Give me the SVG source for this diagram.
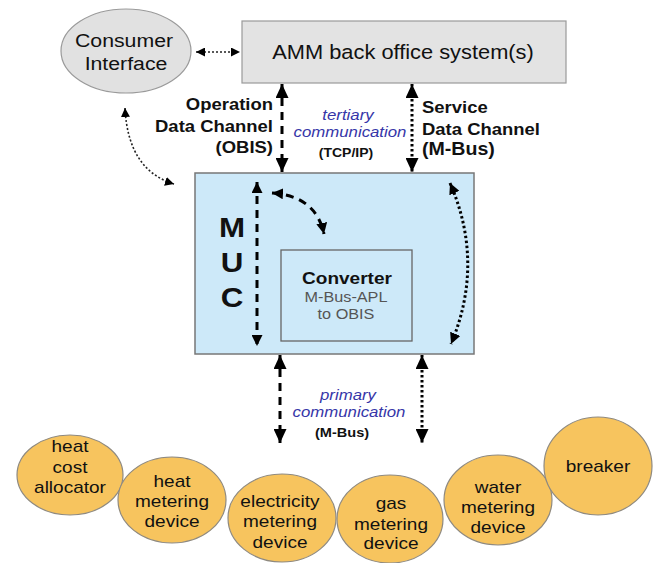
<svg xmlns="http://www.w3.org/2000/svg" width="657" height="563" viewBox="0 0 657 563">
<style>
text{font-family:"Liberation Sans",Arial,sans-serif;fill:#111}
.b{font-weight:bold}
.m{text-anchor:middle}
.e{text-anchor:end}
.blue{fill:#3636a8;font-style:italic;font-size:15px}
.node{font-size:17px}
.dev{fill:#f7c45e;stroke:#8f8a80;stroke-width:1.2}
.big{fill:none;stroke:#000;stroke-width:3}
.dash{stroke-dasharray:8 6}
.dot{stroke-dasharray:2.5 2.5}
.thin{fill:none;stroke:#222;stroke-width:1.6;stroke-dasharray:2 2}
</style>
<defs>
<marker id="ah" markerUnits="userSpaceOnUse" markerWidth="15" markerHeight="13" refX="14" refY="6.5" orient="auto-start-reverse" viewBox="0 0 15 13">
<path d="M0,0 L14,6.5 L0,13 z" fill="#000"/>
</marker>
<marker id="as" markerUnits="userSpaceOnUse" markerWidth="10" markerHeight="9" refX="9" refY="4.5" orient="auto-start-reverse" viewBox="0 0 10 9">
<path d="M0,0 L9,4.5 L0,9 z" fill="#000"/>
</marker>
<marker id="am" markerUnits="userSpaceOnUse" markerWidth="12" markerHeight="11" refX="11" refY="5.5" orient="auto-start-reverse" viewBox="0 0 12 11">
<path d="M0,0 L11,5.5 L0,11 z" fill="#000"/>
</marker>
</defs>

<g id="consumer">
<ellipse cx="126" cy="51" rx="65" ry="42" fill="#e1e1e1" stroke="#9a9a9a" stroke-width="1.2"/>
<text transform="translate(124,47) scale(1.12,1)" class="m" font-size="19">Consumer</text>
<text transform="translate(126,70) scale(1.12,1)" class="m" font-size="19">Interface</text>
</g>

<g id="amm">
<rect x="242" y="21" width="324" height="62" fill="#e3e3e3" stroke="#9a9a9a" stroke-width="1.2"/>
<text transform="translate(403,59) scale(1.12,1)" class="m" font-size="19.5">AMM back office system(s)</text>
</g>

<g id="muc">
<rect x="195" y="173" width="279" height="181" fill="#cde9f9" stroke="#777" stroke-width="1.5"/>
<text transform="translate(232,237) scale(1.12,1)" class="m b" font-size="28">M</text>
<text transform="translate(232,272) scale(1.12,1)" class="m b" font-size="28">U</text>
<text transform="translate(232,307) scale(1.12,1)" class="m b" font-size="28">C</text>
</g>

<g id="converter">
<rect x="281" y="250" width="131" height="91" fill="#cde9f9" stroke="#666" stroke-width="1.3"/>
<text transform="translate(347,284) scale(1.12,1)" class="m b" font-size="17">Converter</text>
<text transform="translate(346,302) scale(1.12,1)" class="m" font-size="14.5" style="fill:#555">M-Bus-APL</text>
<text transform="translate(346,319) scale(1.12,1)" class="m" font-size="14.5" style="fill:#555">to OBIS</text>
</g>

<g id="connectors">
<line x1="196" y1="52" x2="240" y2="52" class="thin" marker-start="url(#as)" marker-end="url(#as)"/>
<path d="M125,108 Q128,170 174,184" class="thin" marker-start="url(#as)" marker-end="url(#as)"/>
<line x1="282" y1="84" x2="282" y2="172" class="big dash" marker-start="url(#ah)" marker-end="url(#ah)"/>
<line x1="412" y1="84" x2="412" y2="172" class="big dot" marker-start="url(#ah)" marker-end="url(#ah)"/>
<line x1="257" y1="182" x2="257" y2="346" class="big dash" marker-start="url(#am)" marker-end="url(#am)"/>
<path d="M272,193 Q316,196 324,234" class="big dash" marker-start="url(#am)" marker-end="url(#am)"/>
<path d="M450,183 Q485,263 451,344" class="big dot" marker-start="url(#am)" marker-end="url(#am)"/>
<line x1="280" y1="355" x2="280" y2="443" class="big dash" marker-start="url(#ah)" marker-end="url(#ah)"/>
<line x1="422" y1="355" x2="422" y2="443" class="big dot" marker-start="url(#ah)" marker-end="url(#ah)"/>
</g>

<g id="labels">
<text transform="translate(273,110) scale(1.12,1)" class="e b" font-size="16.5">Operation</text>
<text transform="translate(273,132) scale(1.12,1)" class="e b" font-size="16.5">Data Channel</text>
<text transform="translate(273,153) scale(1.12,1)" class="e b" font-size="16.5">(OBIS)</text>
<text transform="translate(422,113) scale(1.12,1)" class="b" font-size="16.5">Service</text>
<text transform="translate(422,135) scale(1.12,1)" class="b" font-size="16.5">Data Channel</text>
<text transform="translate(422,155) scale(1.12,1)" class="b" font-size="17.5">(M-Bus)</text>
<text transform="translate(348,120) scale(1.12,1)" class="m blue">tertiary</text>
<text transform="translate(350,137) scale(1.12,1)" class="m blue">communication</text>
<text transform="translate(346,157) scale(1.12,1)" class="m b" font-size="12.5">(TCP/IP)</text>
<text transform="translate(348,400) scale(1.12,1)" class="m blue">primary</text>
<text transform="translate(349,417) scale(1.12,1)" class="m blue">communication</text>
<text transform="translate(342,437) scale(1.12,1)" class="m b" font-size="13">(M-Bus)</text>
</g>

<g id="dev-hca">
<ellipse cx="70" cy="475" rx="53" ry="40" class="dev"/>
<text transform="translate(70,452) scale(1.12,1)" class="m node">heat</text>
<text transform="translate(70,473) scale(1.12,1)" class="m node">cost</text>
<text transform="translate(70,493) scale(1.12,1)" class="m node">allocator</text>
</g>
<g id="dev-heat">
<ellipse cx="172" cy="500" rx="54" ry="43" class="dev"/>
<text transform="translate(172,487) scale(1.12,1)" class="m node">heat</text>
<text transform="translate(172,507) scale(1.12,1)" class="m node">metering</text>
<text transform="translate(172,527) scale(1.12,1)" class="m node">device</text>
</g>
<g id="dev-elec">
<ellipse cx="282" cy="518" rx="54" ry="44" class="dev"/>
<text transform="translate(280,507) scale(1.12,1)" class="m node">electricity</text>
<text transform="translate(280,527) scale(1.12,1)" class="m node">metering</text>
<text transform="translate(280,548) scale(1.12,1)" class="m node">device</text>
</g>
<g id="dev-gas">
<ellipse cx="390" cy="519" rx="53" ry="44" class="dev"/>
<text transform="translate(391,509) scale(1.12,1)" class="m node">gas</text>
<text transform="translate(391,530) scale(1.12,1)" class="m node">metering</text>
<text transform="translate(391,549) scale(1.12,1)" class="m node">device</text>
</g>
<g id="dev-water">
<ellipse cx="498" cy="500" rx="54" ry="45" class="dev"/>
<text transform="translate(498,493) scale(1.12,1)" class="m node">water</text>
<text transform="translate(498,513) scale(1.12,1)" class="m node">metering</text>
<text transform="translate(498,533) scale(1.12,1)" class="m node">device</text>
</g>
<g id="dev-breaker">
<ellipse cx="598" cy="466" rx="54" ry="49" class="dev"/>
<text transform="translate(598,472) scale(1.12,1)" class="m node">breaker</text>
</g>
</svg>
